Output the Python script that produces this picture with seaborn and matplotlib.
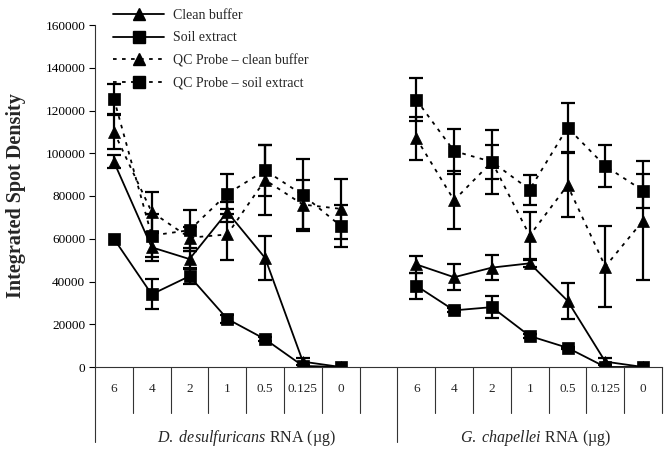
import pandas as pd
import seaborn as sns
import matplotlib.pyplot as plt
from matplotlib.lines import Line2D

# Dose categories (ug RNA) for each organism block
doses = ['6', '4', '2', '1', '0.5', '0.125', '0']
groups = ['D. desulfuricans', 'G. chapellei']
series = ['Clean buffer', 'Soil extract', 'QC Probe \u2013 clean buffer', 'QC Probe \u2013 soil extract']

# D. desulfuricans
clean_d = [96000, 56000, 50500, 72500, 51000, 2500, 0]
clean_d_err = [3000, 6500, 4000, 4500, 10500, 1500, 0]
soil_d = [60000, 34000, 42500, 22500, 13000, 500, 0]
soil_d_err = [0, 7000, 3500, 2000, 1000, 0, 0]
qcc_d = [110000, 72500, 60500, 62000, 87500, 76000, 74000]
qcc_d_err = [8000, 9500, 5000, 12000, 16500, 11500, 14000]
qcs_d = [125500, 61500, 64000, 81000, 92000, 80500, 66000]
qcs_d_err = [7000, 10000, 9500, 9500, 12000, 17000, 10000]

# G. chapellei
clean_g = [48000, 42000, 46500, 48500, 31000, 2500, 0]
clean_g_err = [4000, 6000, 6000, 1500, 8500, 1500, 0]
soil_g = [38000, 26500, 28000, 14500, 9000, 0, 0]
soil_g_err = [6000, 1000, 5000, 1000, 500, 0, 0]
qcc_g = [107000, 78000, 96000, 61500, 85000, 47000, 68500]
qcc_g_err = [10000, 13500, 8000, 11000, 15000, 19000, 28000]
qcs_g = [125000, 101000, 96000, 83000, 112000, 94000, 82500]
qcs_g_err = [10000, 10500, 15000, 7000, 11500, 10000, 8000]

values = {
    ('D. desulfuricans', series[0]): (clean_d, clean_d_err),
    ('D. desulfuricans', series[1]): (soil_d, soil_d_err),
    ('D. desulfuricans', series[2]): (qcc_d, qcc_d_err),
    ('D. desulfuricans', series[3]): (qcs_d, qcs_d_err),
    ('G. chapellei', series[0]): (clean_g, clean_g_err),
    ('G. chapellei', series[1]): (soil_g, soil_g_err),
    ('G. chapellei', series[2]): (qcc_g, qcc_g_err),
    ('G. chapellei', series[3]): (qcs_g, qcs_g_err),
}

# slot positions: 7 doses, one empty slot, 7 doses
n = len(doses)
offsets = {groups[0]: 0, groups[1]: n + 1}

rows = []
for (g, s), (vals, errs) in values.items():
    for i, (v, e) in enumerate(zip(vals, errs)):
        rows.append({'pos': offsets[g] + i, 'value': v, 'err': e, 'series': s, 'group': g})
df = pd.DataFrame(rows)

sns.set_theme(style="ticks")
plt.rcParams['font.family'] = ['Liberation Serif', 'DejaVu Serif']
plt.rcParams['mathtext.fontset'] = 'custom'
plt.rcParams['mathtext.rm'] = 'Liberation Serif'
plt.rcParams['mathtext.it'] = 'Liberation Serif:italic'

fig = plt.figure(figsize=(6.67, 4.57), dpi=100)
ax = fig.add_axes([95 / 667, 1 - 367 / 457, 567 / 667, 342 / 457])

markers = {series[0]: '^', series[1]: 's', series[2]: '^', series[3]: 's'}
dashes = {series[0]: '', series[1]: '', series[2]: (2, 3), series[3]: (2, 3)}

sns.lineplot(data=df, x='pos', y='value', style='series', units='group', estimator=None,
             markers=markers, dashes=dashes, color='black', linewidth=1.3,
             markersize=8.5, markeredgecolor='black', markeredgewidth=0.5,
             legend=False, ax=ax, sort=False)

# error bars
eb = df[df['err'] > 0]
ax.errorbar(eb['pos'], eb['value'], yerr=eb['err'], fmt='none', ecolor='black',
            elinewidth=1.6, capsize=5, capthick=1.6, zorder=3)

ax.set_xlim(-0.5, 2 * n + 0.5)
ax.set_ylim(0, 160000)
ax.set_yticks(range(0, 160001, 20000))
ax.set_yticklabels([str(v) for v in range(0, 160001, 20000)], fontsize=9.5)
ax.set_xticks([])
ax.set_xlabel('')
ax.set_ylabel('Integrated Spot Density', fontsize=14.5, fontweight='bold')
ax.yaxis.set_label_coords(-0.121, 0.5)
ax.tick_params(axis='y', direction='out', length=4, width=0.8, pad=3, colors='black')
sns.despine(ax=ax)
for sp in ['left', 'bottom']:
    ax.spines[sp].set_linewidth(0.8)
    ax.spines[sp].set_color('#333333')

# category table below the axis
tr = ax.get_xaxis_transform()
for b in range(2 * n + 2):
    x = b - 0.5
    long = b in (0, n + 1)
    ax.plot([x, x], [0, -0.219 if long else -0.1345], transform=tr, clip_on=False,
            color='#333333', lw=0.8)
for g in groups:
    for i, d in enumerate(doses):
        ax.text(offsets[g] + i, -0.064, d, transform=tr, ha='center', va='center', fontsize=9.5)

mu = '\u00b5'
ax.text(n / 2, -0.2076, r'$\it{D.\ desulfuricans}$ RNA (' + mu + 'g)',
        transform=tr, ha='center', va='center', fontsize=11.5)
ax.text(offsets[groups[1]] + (n - 1) / 2 + 0.15, -0.2076, r'$\it{G.\ chapellei}$ RNA (' + mu + 'g)',
        transform=tr, ha='center', va='center', fontsize=11.5)

handles = [Line2D([], [], color='black', lw=1.3, marker=markers[s], markersize=8.5,
                  linestyle='-' if dashes[s] == '' else (0, dashes[s])) for s in series]
fig.legend(handles, series, loc='upper left', bbox_to_anchor=(113 / 667, 1 - 9 / 457),
           frameon=False, fontsize=10, handlelength=3.7, handletextpad=0.6,
           labelspacing=0.68, borderpad=0, borderaxespad=0)

fig.savefig('out.png', dpi=100)
